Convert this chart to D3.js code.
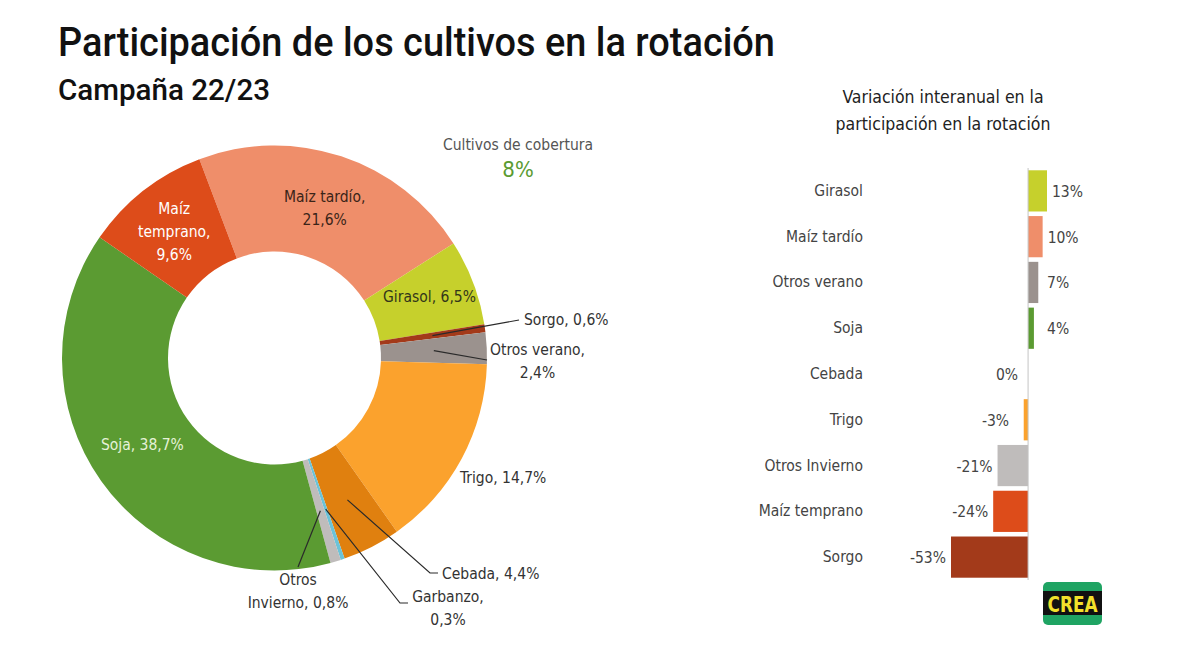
<!DOCTYPE html>
<html>
<head>
<meta charset="utf-8">
<script src="https://cdn.jsdelivr.net/npm/d3@7"></script>
<style>
  body { margin: 0; background: #fff; }
  text { font-family: "Liberation Sans Narrow", "DejaVu Sans Condensed", Roboto, sans-serif; }
  text.head { font-family: Roboto, "DejaVu Sans Condensed", sans-serif; font-weight: 500; }
</style>
</head>
<body>
<div id="chart"></div>
<script>
// Donut: share of each crop in the rotation, campaign 22/23 (%)
const crops = ["Maíz tardío", "Girasol", "Sorgo", "Otros verano", "Trigo", "Cebada", "Garbanzo", "Otros Invierno", "Soja", "Maíz temprano"];
const shares = [21.6, 6.5, 0.6, 2.4, 14.7, 4.4, 0.3, 0.8, 38.7, 9.6];
const shareLabels = ["21,6%", "6,5%", "0,6%", "2,4%", "14,7%", "4,4%", "0,3%", "0,8%", "38,7%", "9,6%"];
const coverLabel = "Cultivos de cobertura";
const coverValue = "8%";

// Bars: year-on-year change in participation (%)
const barCrops = ["Girasol", "Maíz tardío", "Otros verano", "Soja", "Cebada", "Trigo", "Otros Invierno", "Maíz temprano", "Sorgo"];
const barValues = [13, 10, 7, 4, 0, -3, -21, -24, -53];

const colors = d3.scaleOrdinal()
  .domain(["Maíz tardío", "Girasol", "Sorgo", "Otros verano", "Trigo", "Cebada", "Garbanzo", "Otros Invierno", "Soja", "Maíz temprano"])
  .range(["#EF8E6A", "#C6D02C", "#A33A1A", "#9B928E", "#FBA22D", "#E0800F", "#6CC3D8", "#BFBCBB", "#5B9B32", "#DD4C1A"]);

const W = 1200, H = 666;
const svg = d3.select("#chart").append("svg")
  .attr("width", W)
  .attr("height", H);

// Titles
svg.append("text")
  .attr("class", "head")
  .attr("x", 58).attr("y", 56)
  .attr("font-size", 41)
  .attr("fill", "#111")
  .attr("textLength", 717).attr("lengthAdjust", "spacingAndGlyphs")
  .text("Participación de los cultivos en la rotación");

svg.append("text")
  .attr("class", "head")
  .attr("x", 58).attr("y", 100)
  .attr("font-size", 29)
  .attr("fill", "#111")
  .attr("textLength", 212).attr("lengthAdjust", "spacingAndGlyphs")
  .text("Campaña 22/23");

// ---- Donut ----
const cx = 274.5, cy = 358, rOuter = 212.5, rInner = 106.5;
const g = svg.append("g").attr("transform", `translate(${cx},${cy})`);

const pieData = crops.map((c, i) => ({name: c, value: shares[i], label: shareLabels[i]}));
const startA = -20.7 * Math.PI / 180;
const pie = d3.pie().sort(null).value(d => d.value)
  .startAngle(startA).endAngle(startA + 2 * Math.PI);
const arcs = pie(pieData);

const arc = d3.arc().innerRadius(rInner).outerRadius(rOuter);

g.selectAll("path.slice")
  .data(arcs)
  .enter()
  .append("path")
  .attr("class", "slice")
  .attr("d", arc)
  .attr("fill", d => colors(d.data.name));

// label layout: inside labels sit at centroid, outside ones at an offset from the centre
const labelCfg = {
  "Maíz tardío":    {lines: ["Maíz tardío,", "{v}"], inside: true, color: "#3a2418", dx: 0, dy: 2},
  "Maíz temprano":  {lines: ["Maíz", "temprano,", "{v}"], inside: true, color: "#fff", dx: -2, dy: 0},
  "Girasol":        {lines: ["Girasol, {v}"], inside: true, color: "#33361a", dx: 6, dy: -4},
  "Soja":           {lines: ["Soja, 38,7%"], inside: true, color: "#E6F2D8", dx: -2, dy: -5},
  "Trigo":          {lines: ["Trigo, {v}"], pos: [185.5, 120], anchor: "start"},
  "Sorgo":          {lines: ["Sorgo, {v}"], pos: [249.5, -38], anchor: "start", lead: [244.5, -38]},
  "Otros verano":   {lines: ["Otros verano,", "{v}"], pos: [263, -8], anchor: "middle", lead: [212.5, 2]},
  "Cebada":         {lines: ["Cebada, {v}"], pos: [167.5, 216], anchor: "start", lead: [155.5, 215], elbow: 8},
  "Garbanzo":       {lines: ["Garbanzo,", "{v}"], pos: [173.5, 239], anchor: "middle", lead: [125.5, 245], elbow: 8},
  "Otros Invierno": {lines: ["Otros", "Invierno, {v}"], pos: [23.5, 222], anchor: "middle", lead: [23.5, 209]}
};
const lineH = 23;

arcs.forEach(d => {
  const cfg = labelCfg[d.data.name];
  const lines = cfg.lines.map(l => l.replace("{v}", d.data.label));
  let x, y, anchor;
  if (cfg.inside) {
    const c = arc.centroid(d);
    x = c[0] + cfg.dx;
    y = c[1] + cfg.dy - (lines.length - 1) * lineH / 2;
    anchor = "middle";
  } else {
    x = cfg.pos[0];
    y = cfg.pos[1];
    anchor = cfg.anchor;
  }
  const t = g.append("text")
    .attr("x", x).attr("y", y)
    .attr("text-anchor", anchor)
    .attr("dominant-baseline", "central")
    .attr("font-size", 15.5)
    .attr("fill", cfg.color || "#333");
  lines.forEach((l, i) => {
    t.append("tspan").attr("x", x).attr("dy", i === 0 ? 0 : lineH).text(l);
  });
  if (cfg.lead) {
    const c = arc.centroid(d);
    const pts = [c, cfg.lead];
    if (cfg.elbow) pts.push([cfg.lead[0] + cfg.elbow, cfg.lead[1]]);
    g.append("path")
      .attr("d", d3.line()(pts))
      .attr("fill", "none")
      .attr("stroke", "#2a2a2a")
      .attr("stroke-width", 1.2);
  }
});

// cover crops note
svg.append("text")
  .attr("x", 518).attr("y", 150)
  .attr("text-anchor", "middle")
  .attr("font-size", 15.5)
  .attr("fill", "#555")
  .text(coverLabel);
svg.append("text")
  .attr("x", 518).attr("y", 177)
  .attr("text-anchor", "middle")
  .attr("font-size", 22)
  .attr("fill", "#5B9B32")
  .text(coverValue);

// ---- Bar chart ----
svg.append("text")
  .attr("x", 943).attr("y", 103)
  .attr("text-anchor", "middle")
  .attr("font-size", 17.5)
  .attr("fill", "#222")
  .selectAll("tspan")
  .data(["Variación interanual en la", "participación en la rotación"])
  .enter()
  .append("tspan")
  .attr("x", 943)
  .attr("dy", (d, i) => i === 0 ? 0 : 27)
  .text(d => d);

const y = d3.scaleBand()
  .domain(barCrops)
  .range([168, 580])
  .paddingInner(0.1)
  .paddingOuter(0.05);

const x = d3.scaleLinear()
  .domain([-53, 13])
  .range([951, 1047]);

const bars = barCrops.map((c, i) => ({name: c, value: barValues[i]}));

svg.selectAll("rect.bar")
  .data(bars)
  .enter()
  .append("rect")
  .attr("class", "bar")
  .attr("x", d => Math.min(x(0), x(d.value)))
  .attr("y", d => y(d.name))
  .attr("width", d => Math.abs(x(d.value) - x(0)))
  .attr("height", y.bandwidth())
  .attr("fill", d => colors(d.name));

svg.append("line")
  .attr("x1", x(0)).attr("x2", x(0))
  .attr("y1", 168).attr("y2", 580)
  .attr("stroke", "#c4c4c4")
  .attr("stroke-width", 1);

svg.selectAll("text.cat")
  .data(bars)
  .enter()
  .append("text")
  .attr("class", "cat")
  .attr("x", 863)
  .attr("y", d => y(d.name) + y.bandwidth() / 2)
  .attr("text-anchor", "end")
  .attr("dominant-baseline", "central")
  .attr("font-size", 15.5)
  .attr("fill", "#444")
  .text(d => d.name);

svg.selectAll("text.val")
  .data(bars)
  .enter()
  .append("text")
  .attr("class", "val")
  .attr("x", d => {
    const w = Math.abs(x(d.value) - x(0));
    const off = d.value === 0 ? 10 : Math.max(w, 14) + 5;
    return d.value > 0 ? x(0) + off : x(0) - off;
  })
  .attr("y", d => y(d.name) + y.bandwidth() / 2 + 1)
  .attr("text-anchor", d => d.value > 0 ? "start" : "end")
  .attr("dominant-baseline", "central")
  .attr("font-size", 15.5)
  .attr("fill", "#444")
  .text(d => d.value + "%");

// CREA logo
const logo = svg.append("g").attr("transform", "translate(1043,582)");
logo.append("rect").attr("width", 59).attr("height", 43).attr("rx", 5).attr("fill", "#1FA463");
logo.append("rect").attr("y", 9).attr("width", 59).attr("height", 24).attr("fill", "#111");
logo.append("text")
  .attr("x", 29.5).attr("y", 30)
  .attr("text-anchor", "middle")
  .attr("font-size", 22)
  .attr("font-weight", "bold")
  .attr("fill", "#F2E12B")
  .attr("textLength", 50).attr("lengthAdjust", "spacingAndGlyphs")
  .text("CREA");
</script>
</body>
</html>
